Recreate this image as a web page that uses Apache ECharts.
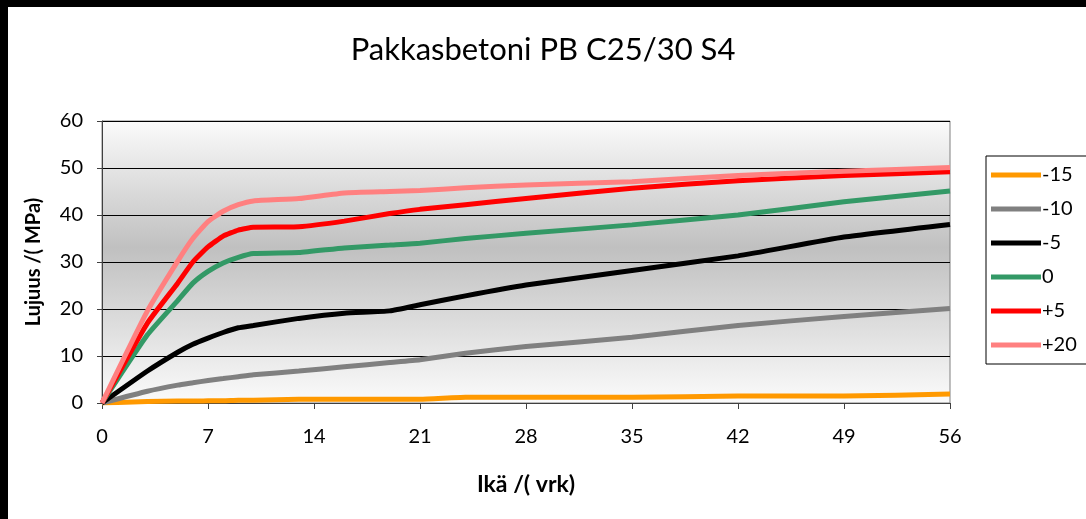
<!DOCTYPE html>
<html>
<head>
<meta charset="utf-8">
<script src="https://cdn.jsdelivr.net/npm/echarts@6/dist/echarts.min.js"></script>
<style>
  html, body { margin: 0; padding: 0; background: #fff; }
  #echart { width: 1086px; height: 519px; }
</style>
</head>
<body>
<div id="echart"></div>
<script>
// age in days (vrk)
var days = [0, 3, 5, 6, 7, 8, 9, 10, 13, 16, 19, 21, 24, 28, 35, 42, 49, 56];

// strength in MPa per curing temperature
var tempMinus15 = [0, 0.3, 0.4, 0.4, 0.5, 0.5, 0.6, 0.6, 0.8, 0.8, 0.8, 0.8, 1.2, 1.2, 1.2, 1.5, 1.5, 1.9];
var tempMinus10 = [0, 2.5, 3.8, 4.3, 4.8, 5.2, 5.6, 6.0, 6.8, 7.7, 8.6, 9.2, 10.6, 12.0, 14.0, 16.5, 18.4, 20.1];
var tempMinus5 = [0, 6.8, 10.8, 12.5, 13.8, 15.0, 16.0, 16.5, 18.0, 19.1, 19.6, 20.9, 22.8, 25.1, 28.2, 31.3, 35.3, 38.0];
var temp0 = [0, 14.5, 21.8, 25.5, 28.0, 29.8, 31.0, 31.8, 32.0, 33.0, 33.6, 34.0, 35.0, 36.1, 37.9, 40.0, 42.8, 45.1];
var tempPlus5 = [0, 17.0, 25.5, 30.0, 33.2, 35.5, 36.8, 37.4, 37.5, 38.7, 40.3, 41.2, 42.2, 43.5, 45.7, 47.3, 48.4, 49.2];
var tempPlus20 = [0, 19.6, 30.2, 35.0, 38.6, 40.8, 42.2, 43.0, 43.5, 44.7, 45.0, 45.2, 45.8, 46.4, 47.1, 48.4, 49.3, 50.1];

var seriesNames = ['-15', '-10', '-5', '0', '+5', '+20'];
var seriesValues = [tempMinus15, tempMinus10, tempMinus5, temp0, tempPlus5, tempPlus20];
var seriesColors = ['#FF9900', '#808080', '#000000', '#339966', '#FF0000', '#FF8080'];

var FONT = 'Lato';

function pairs(values) {
    return days.map(function (d, i) { return [d, values[i]]; });
}

var myChart = echarts.init(document.getElementById('echart'));
var option = {
    animation: false,
    backgroundColor: '#ffffff',
    title: {
        text: 'Pakkasbetoni PB C25/30 S4',
        left: 'center',
        top: 29,
        textStyle: { fontFamily: FONT, fontSize: 31, fontWeight: 'normal', color: '#000' }
    },
    graphic: [
        { type: 'rect', left: 0, top: 0, shape: { width: 1086, height: 7 }, style: { fill: '#000' }, z: 100 },
        { type: 'rect', left: 0, top: 0, shape: { width: 8, height: 519 }, style: { fill: '#000' }, z: 100 }
    ],
    legend: {
        orient: 'vertical',
        left: 986,
        top: 156,
        padding: [9, 12, 9, 5],
        itemGap: 14,
        itemWidth: 50,
        itemHeight: 5,
        icon: 'rect',
        borderColor: '#000',
        borderWidth: 1,
        textStyle: { fontFamily: FONT, fontSize: 20, color: '#000', padding: [0, 0, 0, -4] },
        data: seriesNames
    },
    grid: {
        left: 102,
        right: 136,
        top: 121,
        bottom: 116,
        show: true,
        borderColor: '#808080',
        borderWidth: 1,
        backgroundColor: new echarts.graphic.LinearGradient(0, 0, 0, 1, [
            { offset: 0, color: '#fbfbfb' },
            { offset: 0.45, color: '#c0c0c0' },
            { offset: 1, color: '#fbfbfb' }
        ])
    },
    xAxis: {
        type: 'value',
        min: 0,
        max: 56,
        interval: 7,
        name: 'Ikä /( vrk)',
        nameLocation: 'middle',
        nameGap: 70,
        nameTextStyle: { fontFamily: FONT, fontSize: 23, fontWeight: 'bold', color: '#000' },
        axisLine: { lineStyle: { color: '#404040', width: 1 } },
        axisTick: { length: 6, lineStyle: { color: '#404040' } },
        axisLabel: { fontFamily: FONT, fontSize: 20, color: '#000', margin: 24 },
        splitLine: { show: false }
    },
    yAxis: {
        type: 'value',
        min: 0,
        max: 60,
        interval: 10,
        name: 'Lujuus /( MPa)',
        nameLocation: 'middle',
        nameGap: 58,
        nameTextStyle: { fontFamily: FONT, fontSize: 20, fontWeight: 'bold', color: '#000' },
        axisLine: { show: true, lineStyle: { color: '#404040', width: 1 } },
        axisTick: { show: true, length: 5, lineStyle: { color: '#404040' } },
        axisLabel: { fontFamily: FONT, fontSize: 20, color: '#000', margin: 19 },
        splitLine: { show: true, lineStyle: { color: '#000', width: 1 } }
    },
    series: seriesNames.map(function (name, i) {
        return {
            name: name,
            type: 'line',
            data: pairs(seriesValues[i]),
            showSymbol: false,
            smooth: 0.15,
            color: seriesColors[i],
            lineStyle: { width: 5, color: seriesColors[i] }
        };
    })
};
myChart.setOption(option);
</script>
</body>
</html>
